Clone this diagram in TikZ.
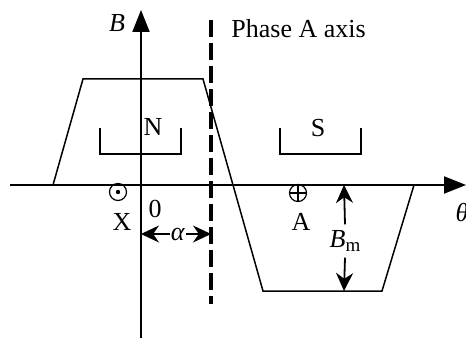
\documentclass[tikz,border=0pt]{standalone}
\usepackage{fontspec}
\setmainfont{Liberation Serif}
\usetikzlibrary{arrows.meta}
\begin{document}
\begin{tikzpicture}[x=0.5pt,y=0.5pt,>={Triangle[length=11pt,width=8.5pt]},
  every node/.style={font=\fontsize{13}{15}\selectfont,inner sep=1pt},
  dimarrow/.style={line width=0.9pt,-{Stealth[length=9pt,width=8.5pt]}},
  wire/.style={draw,circle,line width=0.6pt,minimum size=8.5pt,inner sep=0pt}]
  \useasboundingbox (-141,-153) rectangle (325,185);
  % axes
  \draw[line width=1pt,->] (-131,0) -- (325,0);
  \draw[line width=1pt,->] (0,-153) -- (0,175);
  \node (B) at (-24,162) {\textit{B}};
  \node (th) at (321,-28) {\textit{θ}};
  \node (zero) at (14,-24) {0};
  % flux density wave
  \draw[line width=0.75pt] (-88,0) -- (-58,106) -- (62,106) -- (122,-106) -- (241,-106) -- (273,0);
  % poles
  \draw[line width=0.75pt] (-41,57) -- (-41,31) -- (40,31) -- (40,57);
  \draw[line width=0.75pt] (139,57) -- (139,31) -- (220,31) -- (220,57);
  \node (N) at (12,58) {N};
  \node (S) at (177,57) {S};
  % phase A axis
  \draw[line width=1.7pt,dash pattern=on 8.5pt off 3pt] (70,165) -- (70,-119);
  \node[anchor=base west,inner sep=0pt] (ph) at (90,147) {Phase A axis};
  % conductors
  \node[wire] (X) at (-23,-7) {};
  \fill (X) circle (1.1pt);
  \node[wire] (A) at (157,-8) {};
  \draw[line width=0.6pt] (A.north) -- (A.south) (A.west) -- (A.east);
  \node (Xl) at (-19,-37) {X};
  \node (Al) at (160,-37) {A};
  % angle alpha
  \coordinate (a0) at (0,-49);
  \coordinate (a1) at (70,-49);
  \node[inner sep=0.5pt] (al) at (37,-49) {\textit{α}};
  \draw[dimarrow] (al) -- (a0);
  \draw[dimarrow] (al) -- (a1);
  % amplitude
  \coordinate (m0) at (203,0);
  \coordinate (m1) at (203,-106);
  \node (Bm) at (204,-56) {\textit{B}\raisebox{-0.3ex}{\fontsize{9.5}{10}\selectfont m}};
  \draw[dimarrow] (Bm.north) ++(0,4) -- (m0);
  \draw[dimarrow] (Bm.south) ++(0,-4) -- (m1);
\end{tikzpicture}
\end{document}
